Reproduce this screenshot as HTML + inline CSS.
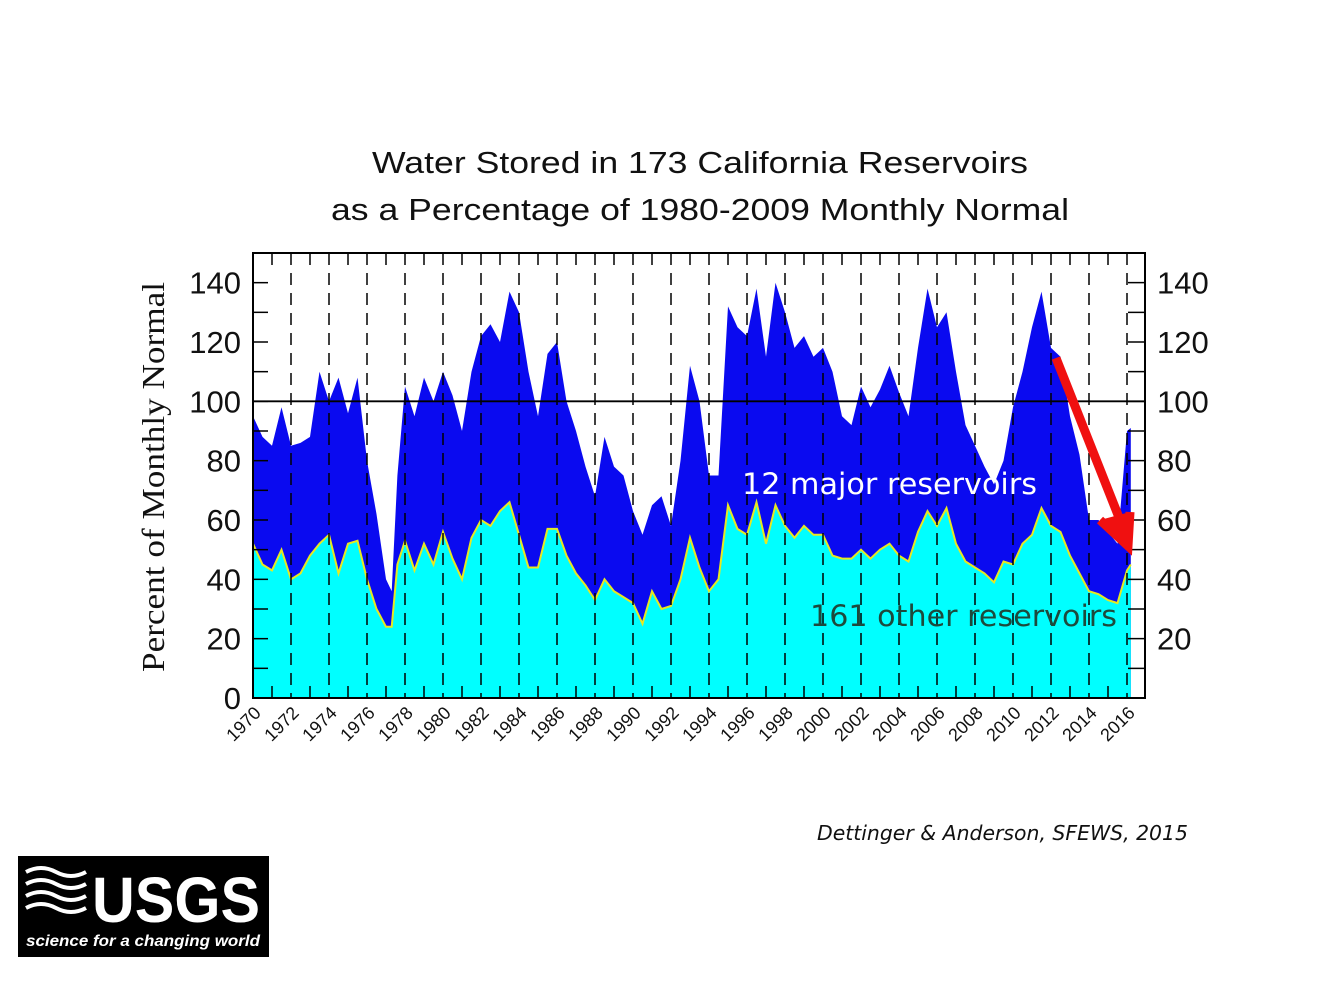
<!DOCTYPE html>
<html><head><meta charset="utf-8"><style>
body{margin:0;background:#fff;width:1320px;height:990px;overflow:hidden;font-family:"Liberation Sans",sans-serif}
</style></head><body>
<svg width="1320" height="990" xmlns="http://www.w3.org/2000/svg">
<g font-family="Liberation Sans, sans-serif" font-size="31" fill="#111" text-anchor="middle">
<text x="700" y="173" textLength="656" lengthAdjust="spacingAndGlyphs">Water Stored in 173 California Reservoirs</text>
<text x="700" y="220" textLength="738" lengthAdjust="spacingAndGlyphs">as a Percentage of 1980-2009 Monthly Normal</text>
</g>
<text transform="translate(164,477) rotate(-90)" text-anchor="middle" font-family="Liberation Serif, serif" font-size="32" fill="#111" textLength="390" lengthAdjust="spacingAndGlyphs">Percent of Monthly Normal</text>
<g id="plot"></g>
<text x="742" y="494" font-family="DejaVu Sans, sans-serif" font-size="29" fill="#fff" textLength="295" lengthAdjust="spacingAndGlyphs">12 major reservoirs</text>
<text x="810" y="626" font-family="DejaVu Sans, sans-serif" font-size="29" fill="#1d4a3c" textLength="307" lengthAdjust="spacingAndGlyphs">161 other reservoirs</text>
<g>
<line x1="1056" y1="358" x2="1120" y2="520" stroke="#f01010" stroke-width="9"/>
<polygon points="1100,520 1130,512 1128,546" fill="#f01010"/>
<polyline points="1100,520 1128,546 1130,512" fill="none" stroke="#f01010" stroke-width="9" stroke-linejoin="miter"/>
</g>
<text x="817" y="840" font-family="DejaVu Sans, sans-serif" font-style="italic" font-size="20" fill="#111" textLength="371" lengthAdjust="spacingAndGlyphs">Dettinger &amp; Anderson, SFEWS, 2015</text>
<g>
<rect x="18" y="856" width="251" height="101" fill="#000"/>
<g stroke="#fff" stroke-width="4" fill="none">
<path d="M26 872 q15 -8 30 0 t30 0"/><path d="M26 884 q15 -8 30 0 t30 0"/><path d="M26 896 q15 -8 30 0 t30 0"/><path d="M26 908 q15 -8 30 0 t30 0"/>
</g>
<text x="92" y="922" font-family="Liberation Sans, sans-serif" font-weight="bold" font-size="64" fill="#fff" textLength="168" lengthAdjust="spacingAndGlyphs">USGS</text>
<text x="26" y="946" font-family="Liberation Sans, sans-serif" font-weight="bold" font-style="italic" font-size="16" fill="#fff" textLength="234" lengthAdjust="spacingAndGlyphs">science for a changing world</text>
</g>
</svg>
<script>
const years=[1970,1970.5,1971,1971.5,1972,1972.5,1973,1973.5,1974,1974.5,1975,1975.5,1976,1976.5,1977,1977.3,1977.6,1978,1978.5,1979,1979.5,1980,1980.5,1981,1981.5,1982,1982.5,1983,1983.5,1984,1984.5,1985,1985.5,1986,1986.5,1987,1987.5,1988,1988.5,1989,1989.5,1990,1990.5,1991,1991.5,1992,1992.5,1993,1993.5,1994,1994.5,1995,1995.5,1996,1996.5,1997,1997.5,1998,1998.5,1999,1999.5,2000,2000.5,2001,2001.5,2002,2002.5,2003,2003.5,2004,2004.5,2005,2005.5,2006,2006.5,2007,2007.5,2008,2008.5,2009,2009.5,2010,2010.5,2011,2011.5,2012,2012.5,2013,2013.5,2014,2014.5,2015,2015.5,2016,2016.2];
const majorVals=[95,88,85,98,85,86,88,110,100,108,96,108,80,62,40,36,75,105,95,108,100,110,102,90,110,122,126,120,137,130,110,95,116,120,100,90,78,68,88,78,75,63,55,65,68,58,80,112,100,75,75,132,125,122,138,115,140,130,118,122,115,118,110,95,92,105,98,104,112,103,95,118,138,125,130,110,92,85,78,72,80,98,110,125,137,118,115,95,82,60,60,56,52,90,91];
const otherVals=[52,45,43,50,40,42,48,52,55,42,52,53,40,30,24,24,45,53,43,52,45,56,47,40,54,60,58,63,66,55,44,44,57,57,48,42,38,33,40,36,34,32,25,36,30,31,40,54,44,36,40,65,57,55,66,52,65,58,54,58,55,55,48,47,47,50,47,50,52,48,46,56,63,58,64,52,46,44,42,39,46,45,52,55,64,58,56,48,42,36,35,33,32,43,45];
const yTicks=[0,20,40,60,80,100,120,140];
const xTickYears=[1970,1972,1974,1976,1978,1980,1982,1984,1986,1988,1990,1992,1994,1996,1998,2000,2002,2004,2006,2008,2010,2012,2014,2016];
const L=253,R=1145,T=253,B=698;
const X=y=>L+(y-1970)*19;
const Y=v=>B-v*(B-T)/150;
const g=document.getElementById('plot');
const NS='http://www.w3.org/2000/svg';
function mk(t,a){const e=document.createElementNS(NS,t);for(const k in a)e.setAttribute(k,a[k]);g.appendChild(e);return e;}
function area(vals){let d='M'+X(years[0])+','+B;years.forEach((y,i)=>d+=' L'+X(y).toFixed(1)+','+Y(vals[i]).toFixed(1));d+=' L'+X(years[years.length-1])+','+B+' Z';return d;}
let e=mk('path',{d:area(majorVals),fill:'#0a0af0'});


e=mk('path',{d:area(otherVals),fill:'#00ffff'});


e=mk('polyline',{points:years.map((y,i)=>X(y).toFixed(1)+','+Y(otherVals[i]).toFixed(1)).join(' '),fill:'none',stroke:'#e8e820','stroke-width':2});


xTickYears.forEach(y=>{
  if(y>1970){const l=mk('line',{x1:X(y),x2:X(y),y1:T,y2:B,stroke:'#000','stroke-width':1.5,'stroke-dasharray':'12,8'});
  
  }
  const t=mk('text',{x:0,y:0,transform:`translate(${X(y)+9},${B+16}) rotate(-45)`,'text-anchor':'end','font-size':18,fill:'#111'});
  t.textContent=y;
  
  
});
for(let y=1971;y<2017;y+=2){mk('line',{x1:X(y),x2:X(y),y1:T,y2:T+12,stroke:'#000','stroke-width':1.5});mk('line',{x1:X(y),x2:X(y),y1:B,y2:B-12,stroke:'#000','stroke-width':1.5});}
for(let v=10;v<150;v+=10){mk('line',{x1:L,x2:L+15,y1:Y(v),y2:Y(v),stroke:'#000','stroke-width':1.5});mk('line',{x1:R,x2:R-17,y1:Y(v),y2:Y(v),stroke:'#000','stroke-width':1.5});}
yTicks.forEach(v=>{
  let t=mk('text',{x:241,y:Y(v)+11,'text-anchor':'end','font-size':31,fill:'#111'});t.textContent=v;
  
  
  if(v>0){t=mk('text',{x:1157,y:Y(v)+11,'font-size':31,fill:'#111'});t.textContent=v;
  
  }
});
e=mk('line',{x1:L,x2:R,y1:Y(100),y2:Y(100),stroke:'#000','stroke-width':1.8});


e=mk('rect',{x:L,y:T,width:R-L,height:B-T,fill:'none',stroke:'#000','stroke-width':2});


</script>
</body></html>
